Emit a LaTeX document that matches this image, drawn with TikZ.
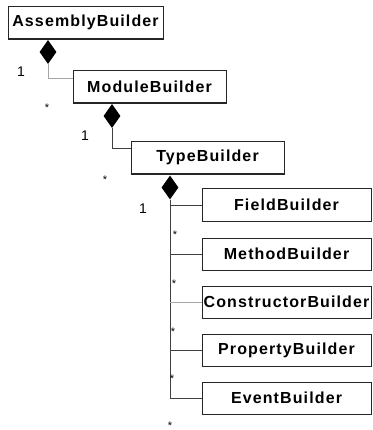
\documentclass[tikz,border=0pt]{standalone}
\usepackage{fontspec}
\setmainfont{Liberation Sans}
\newfontfamily\classfont[LetterSpace=7]{Liberation Sans}
\usetikzlibrary{shapes.geometric}

\tikzset{
  cls/.style={draw=black!85, line width=1pt, fill=white, inner sep=0pt,
    minimum height=32pt, text=black,
    font=\classfont\bfseries\fontsize{16}{18}\selectfont},
  link/.style={draw=black!75, line width=1pt},
  faint/.style={draw=black!35, line width=1pt},
  comp/.style={diamond, fill=black, draw=none, inner sep=0pt,
    minimum width=17pt, minimum height=24pt},
  mult/.style={inner sep=0pt, text=black, font=\fontsize{14}{16}\selectfont},
  many/.style={inner sep=0pt, anchor=base, text=black, font=\fontsize{11}{13}\selectfont}
}

\begin{document}
\begin{tikzpicture}[x=1pt, y=-1pt]
  \useasboundingbox (0,0) rectangle (372,430);

  % class boxes
  \node[cls, minimum width=155pt] (asm) at (85.5,22.5) {AssemblyBuilder};
  \node[cls, minimum width=153pt] (mod) at (149.5,87) {ModuleBuilder};
  \node[cls, minimum width=153pt] (typ) at (207.5,157.5) {TypeBuilder};
  \node[cls, minimum width=169pt] (fld) at (286.5,205) {FieldBuilder};
  \node[cls, minimum width=169pt] (mth) at (286.5,254) {MethodBuilder};
  \node[cls, minimum width=169pt] (ctr) at (286.5,302) {ConstructorBuilder};
  \node[cls, minimum width=169pt] (prp) at (286.5,350) {PropertyBuilder};
  \node[cls, minimum width=169pt] (evt) at (286.5,398) {EventBuilder};

  % heavier lower and right edges of each box
  \foreach \n in {asm,mod,typ,fld,mth,ctr,prp,evt}
    \draw[black!85, line width=1.8pt] (\n.south west) -- (\n.south east) -- (\n.north east);

  % composition diamonds
  \node[comp] (d1) at (48,52) {};
  \node[comp] (d2) at (112,116) {};
  \node[comp] (d3) at (170,187.5) {};

  % elbow connectors to the owned classes
  \coordinate (m1) at ([yshift=-8pt]mod.north west);
  \coordinate (t1) at ([yshift=-8pt]typ.north west);
  \draw[faint] (d1.south) |- (m1);
  \draw[link] (d2.south) |- (t1);

  % trunk from TypeBuilder with its branches
  \draw[link] (d3.south) |- (evt.west);
  \draw[link] (d3.south |- fld.west) -- (fld.west);
  \draw[link] (d3.south |- mth.west) -- (mth.west);
  \draw[faint] (d3.south |- ctr.west) -- (ctr.west);
  \draw[link] (d3.south |- prp.west) -- (prp.west);

  % multiplicities
  \node[mult] (o1) at (21,72) {1};
  \node[mult] (o2) at (85,136) {1};
  \node[mult] (o3) at (143,209) {1};
  \node[many] (s1) at (47,112) {*};
  \node[many] (s2) at (105,183) {*};
  \node[many] (s3) at (175,238) {*};
  \node[many] (s4) at (174,287) {*};
  \node[many] (s5) at (173,335) {*};
  \node[many] (s6) at (172,382) {*};
  \node[many] (s7) at (170,429) {*};
\end{tikzpicture}
\end{document}
